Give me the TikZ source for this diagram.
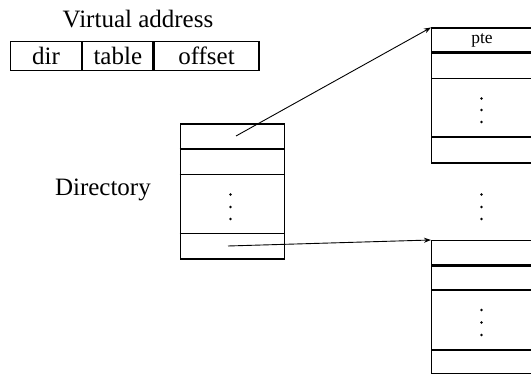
\documentclass[tikz,border=0pt]{standalone}
\usepackage{fontspec}
\setmainfont{Liberation Serif}
\usetikzlibrary{arrows.meta}
\begin{document}
\begin{tikzpicture}[x=1pt,y=-1pt,
  cell/.style={draw, line width=1.2pt, minimum height=29pt, inner sep=0pt, anchor=north west, font=\fontsize{25}{27}\selectfont},
  box/.style={draw, line width=1.4pt},
  sep/.style={line width=1.2pt},
  septhick/.style={line width=2.2pt},
  lbl/.style={font=\fontsize{25}{27}\selectfont, inner sep=0pt},
  dotm/.style={circle, fill, inner sep=0pt, minimum size=2.6pt},
  ptr/.style={line width=0.9pt, -{Stealth[length=7pt,width=5pt]}}]
\useasboundingbox (0,0) rectangle (531,374);
\clip (0,0) rectangle (531,374);
% virtual address
\node[lbl] (va) at (138,19) {Virtual address};
\node[cell, minimum width=71pt] (fdir) at (10,41) {dir};
\node[cell, minimum width=70pt] (ftab) at (fdir.north east) {table};
\node[cell, minimum width=105pt] (foff) at (ftab.north east) {offset};
% directory
\node[lbl, anchor=east] (dirlbl) at (151,190) {Directory};
\node[box, minimum width=104pt, minimum height=135pt, inner sep=0pt, anchor=north west] (D) at (179.5,123.5) {};
\coordinate (d1) at (179.5,149);
\coordinate (d2) at (179.5,174.5);
\coordinate (d3) at (179.5,233.5);
\draw[septhick] (d1) -- (d1 -| D.east);
\draw[sep] (d2) -- (d2 -| D.east);
\draw[sep] (d3) -- (d3 -| D.east);
\node[dotm] (dd1) at (230.5,194.5) {};
\node[dotm] (dd2) at (230.5,207) {};
\node[dotm] (dd3) at (230.5,219) {};
\coordinate (dsrc1) at (236,136);
\coordinate (dsrc2) at (228,246);
% top page table
\node[box, minimum width=110pt, minimum height=135pt, inner sep=0pt, anchor=north west] (T1) at (431,27.5) {};
\coordinate (t1a) at (431,52.5);
\coordinate (t1b) at (431,78.5);
\coordinate (t1c) at (431,137);
\draw[septhick] (t1a) -- (t1a -| T1.east);
\draw[sep] (t1b) -- (t1b -| T1.east);
\draw[sep] (t1c) -- (t1c -| T1.east);
\node[inner sep=0pt, font=\fontsize{17.5}{18}\selectfont] (pte) at (482,40) {pte};
\node[dotm] (a1) at (481.5,98.5) {};
\node[dotm] (a2) at (481.5,110) {};
\node[dotm] (a3) at (481.5,122) {};
% middle dots
\node[dotm] (m1) at (481.5,194.5) {};
\node[dotm] (m2) at (481.5,207) {};
\node[dotm] (m3) at (481.5,219) {};
% bottom page table
\node[box, minimum width=110pt, minimum height=133.5pt, inner sep=0pt, anchor=north west] (T2) at (431,240) {};
\coordinate (t2a) at (431,265.5);
\coordinate (t2b) at (431,290);
\coordinate (t2c) at (431,350);
\draw[septhick] (t2a) -- (t2a -| T2.east);
\draw[sep] (t2b) -- (t2b -| T2.east);
\draw[sep] (t2c) -- (t2c -| T2.east);
\node[dotm] (b1) at (481.5,310) {};
\node[dotm] (b2) at (481.5,322.5) {};
\node[dotm] (b3) at (481.5,335) {};
% pointers
\draw[ptr] (dsrc1) -- (T1.north west);
\draw[ptr] (dsrc2) -- (T2.north west);
\end{tikzpicture}
\end{document}
